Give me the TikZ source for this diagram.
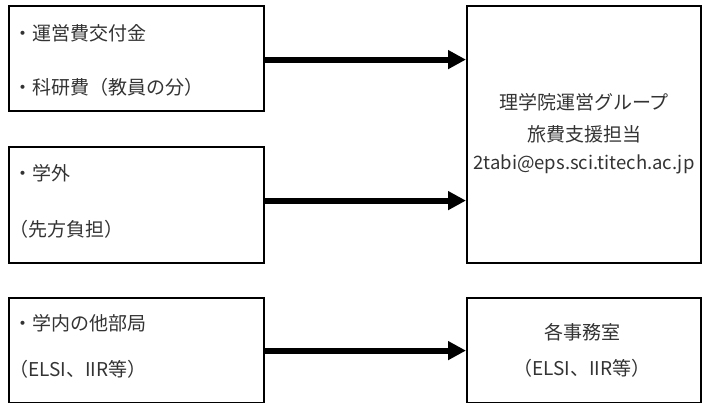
\documentclass[tikz,border=0pt]{standalone}
\usepackage{fontspec}
\setmainfont{Noto Sans CJK JP}
\usetikzlibrary{arrows.meta}
\begin{document}
\begin{tikzpicture}[x=1pt,y=-1pt,
  frame/.style={draw, line width=2.2pt, inner sep=0pt, anchor=north west},
  lbl/.style={inner sep=0pt, text=black!80, font=\fontsize{19}{22}\selectfont},
  mail/.style={lbl, font=\fontsize{18.5}{22}\selectfont},
  flow/.style={line width=6pt, -{Triangle[length=18pt,width=18pt]}}]
\useasboundingbox (0,0) rectangle (702,403);
% boxes
\node[frame, minimum width=255pt, minimum height=105pt] (b1) at (8,5) {};
\node[frame, minimum width=255pt, minimum height=116pt] (b2) at (8,146) {};
\node[frame, minimum width=255pt, minimum height=105pt] (b3) at (8,297) {};
\node[frame, minimum width=234pt, minimum height=257pt] (r1) at (466,5) {};
\node[frame, minimum width=234pt, minimum height=105pt] (r2) at (466,297) {};
% arrows
\draw[flow] ([yshift=-1pt]b1.east) -- ([yshift=-1pt]b1.east -| r1.west);
\draw[flow] ([yshift=4.5pt]b2.east) -- ([yshift=4.5pt]b2.east -| r1.west);
\draw[flow] (b3.east) -- (b3.east -| r2.west);
% texts
\node[lbl, anchor=west] (t1) at (13,33.5) {・運営費交付金};
\node[lbl, anchor=west] (t2) at (13,87.5) {・科研費（教員の分）};
\node[lbl, anchor=west] (t3) at (13,173) {・学外};
\node[lbl, anchor=west] (t4) at (9,229) {（先方負担）};
\node[lbl, anchor=west] (t5) at (13,323) {・学内の他部局};
\node[lbl, anchor=west] (t6) at (9,369) {（ELSI、IIR等）};
\node[lbl] (t7) at (584,102) {理学院運営グループ};
\node[lbl] (t8) at (584,134) {旅費支援担当};
\node[mail] (t9) at (584,164) {2tabi@eps.sci.titech.ac.jp};
\node[lbl] (t10) at (582,332) {各事務室};
\node[lbl] (t11) at (582,368) {（ELSI、IIR等）};
\end{tikzpicture}
\end{document}
